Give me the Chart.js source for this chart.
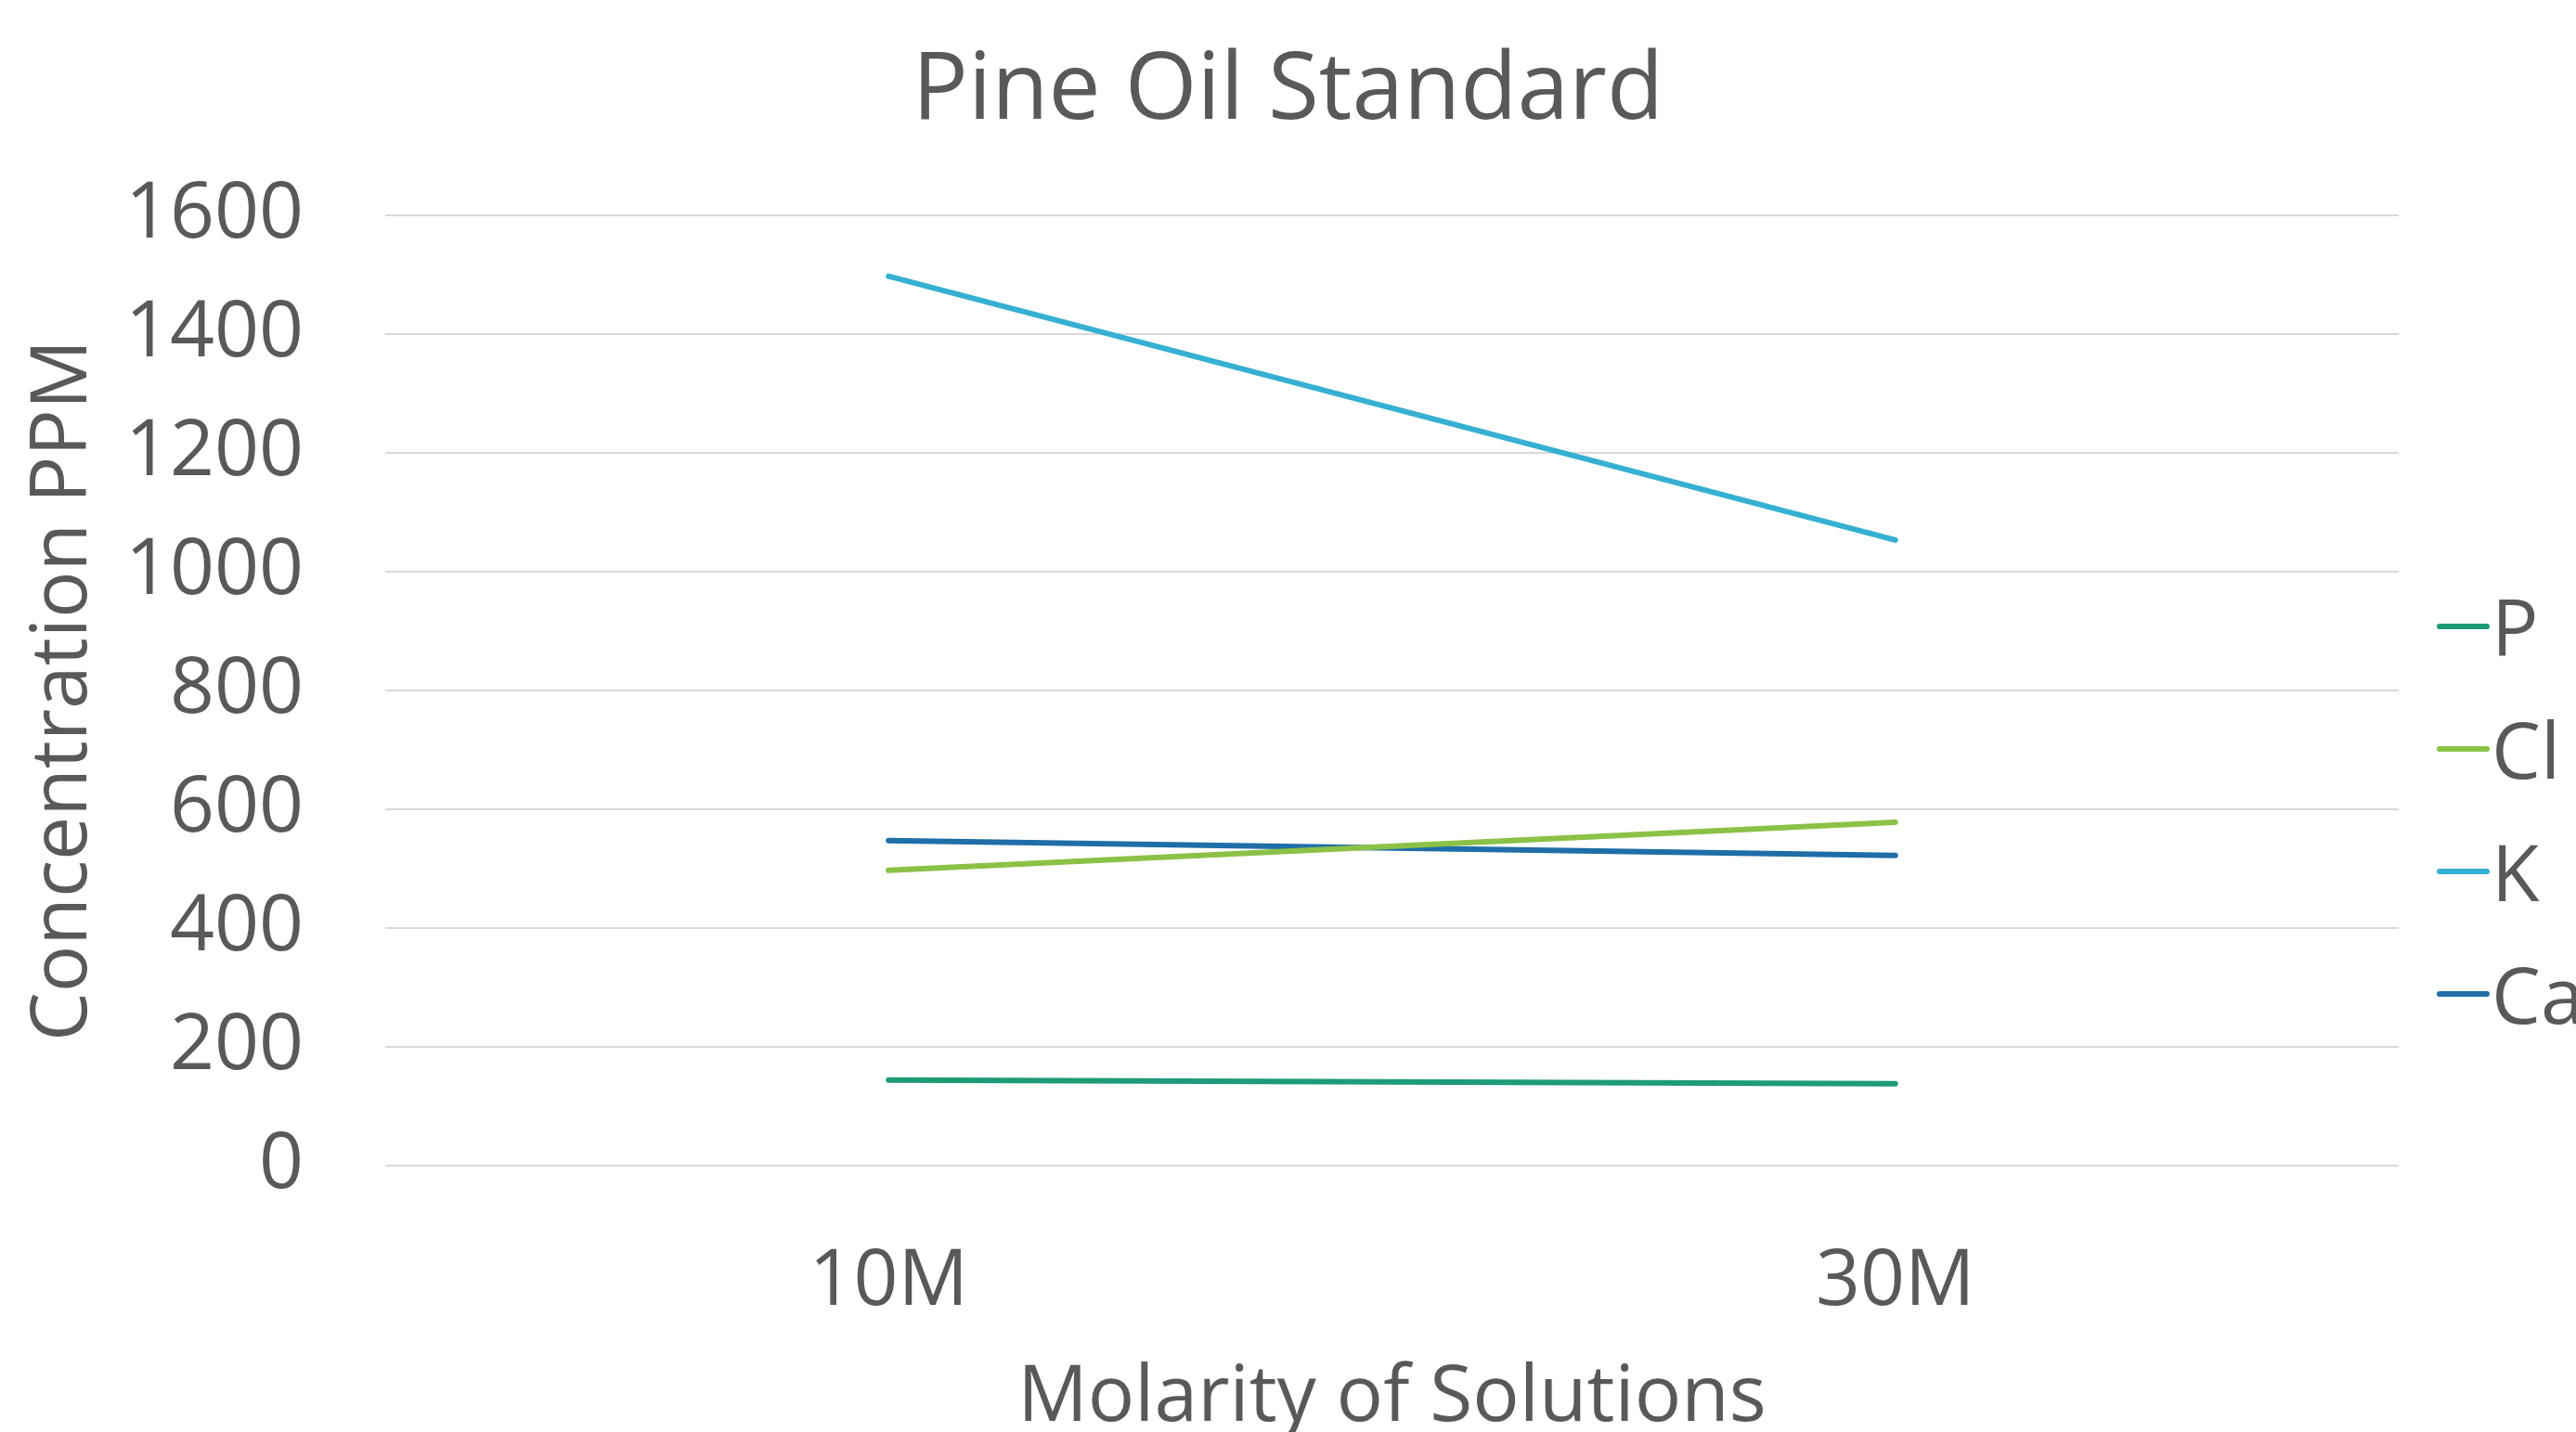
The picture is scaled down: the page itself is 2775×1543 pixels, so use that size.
<!DOCTYPE html>
<html>
<head>
<meta charset="utf-8">
<script src="https://cdn.jsdelivr.net/npm/chart.js@4.4.1/dist/chart.umd.min.js"></script>
<style>
  html, body { margin: 0; padding: 0; background: #ffffff; overflow: hidden; }
  #wrap { position: relative; width: 2775px; height: 1543px; }
  #c { position: absolute; left: 0; top: 0; }
  #legend { position: absolute; left: 0; top: 0; width: 2775px; height: 1543px; pointer-events: none; overflow: hidden; }
  .li { position: absolute; display: flex; align-items: center; height: 84px; line-height: 84px;
        font-family: "Open Sans", sans-serif; font-size: 84px; color: #595959; white-space: nowrap; }
  .ln { display: inline-block; width: 57px; height: 6px; border-radius: 3px; margin-right: 2px; }
</style>
</head>
<body>
<div id="wrap">
  <canvas id="c" width="2775" height="1543"></canvas>
  <div id="legend"></div>
</div>
<script>
const chartTitle = 'Pine Oil Standard';
const xTitle = 'Molarity of Solutions';
const yTitle = 'Concentration PPM';
const categories = ['10M', '30M'];
const seriesNames = ['P', 'Cl', 'K', 'Ca'];
const seriesColors = ['#1E9B78', '#8BC146', '#36B0D2', '#1F6EA8'];
const valuesP  = [144, 138];
const valuesCl = [497, 578];
const valuesK  = [1497, 1053];
const valuesCa = [547, 522];
const yTicks = [0, 200, 400, 600, 800, 1000, 1200, 1400, 1600];

const seriesValues = [valuesP, valuesCl, valuesK, valuesCa];
const textColor = '#595959';
const fontFamily = '"Open Sans", sans-serif';

const datasets = seriesNames.map((name, i) => ({
  label: name,
  data: seriesValues[i],
  borderColor: seriesColors[i],
  backgroundColor: seriesColors[i],
  borderWidth: 6,
  borderCapStyle: 'round',
  borderJoinStyle: 'round',
  pointRadius: 0,
  pointHoverRadius: 0,
  tension: 0,
  fill: false,
  yAxisID: 'y'
}));

const chart = new Chart(document.getElementById('c'), {
  type: 'line',
  data: { labels: categories, datasets },
  options: {
    responsive: false,
    animation: false,
    devicePixelRatio: 1,
    layout: { padding: { left: 0, right: 0, top: 0, bottom: 0 } },
    plugins: {
      legend: { display: false },
      tooltip: { enabled: false },
      title: {
        display: true,
        text: chartTitle,
        color: textColor,
        font: { family: fontFamily, size: 100, weight: 'normal', lineHeight: 1.2 },
        padding: { top: 40, bottom: 71.7 }
      }
    },
    scales: {
      x: {
        offset: true,
        grid: { display: false, drawTicks: false },
        border: { display: false },
        ticks: {
          color: textColor,
          padding: 76,
          font: { family: fontFamily, size: 84 }
        },
        title: {
          display: true,
          text: xTitle,
          color: textColor,
          font: { family: fontFamily, size: 84, lineHeight: 0.86 },
          padding: { top: 0, bottom: 0 }
        },
        afterFit: (s) => { s.height = 287; }
      },
      y: {
        position: 'left',
        min: yTicks[0],
        max: yTicks[yTicks.length - 1],
        afterBuildTicks: (s) => { s.ticks = yTicks.map(v => ({ value: v })); },
        grid: { color: '#D9D9D9', lineWidth: 2, drawTicks: false },
        border: { display: false },
        ticks: {
          color: textColor,
          padding: 88,
          font: { family: fontFamily, size: 84 },
          callback: (v) => String(v)
        },
        title: {
          display: true,
          text: yTitle,
          color: textColor,
          font: { family: fontFamily, size: 84, lineHeight: 1.2 },
          padding: { top: 19, bottom: 0 }
        },
        afterFit: (s) => { s.width = 415; }
      },
      legendSpace: {
        type: 'linear',
        position: 'right',
        display: true,
        min: yTicks[0],
        max: yTicks[yTicks.length - 1],
        grid: { display: false, drawTicks: false },
        border: { display: false },
        ticks: { display: false },
        afterFit: (s) => { s.width = 191; }
      }
    }
  }
});

// Legend (HTML, built from the series arrays)
const legendEl = document.getElementById('legend');
const legendTop = 677.7;
const legendStep = 131.8;
seriesNames.forEach((name, i) => {
  const item = document.createElement('div');
  item.className = 'li';
  item.style.left = '2625px';
  item.style.top = (legendTop + i * legendStep - 44.6) + 'px';
  const ln = document.createElement('span');
  ln.className = 'ln';
  ln.style.background = seriesColors[i];
  const tx = document.createElement('span');
  tx.textContent = name;
  item.appendChild(ln);
  item.appendChild(tx);
  legendEl.appendChild(item);
});
</script>
</body>
</html>
